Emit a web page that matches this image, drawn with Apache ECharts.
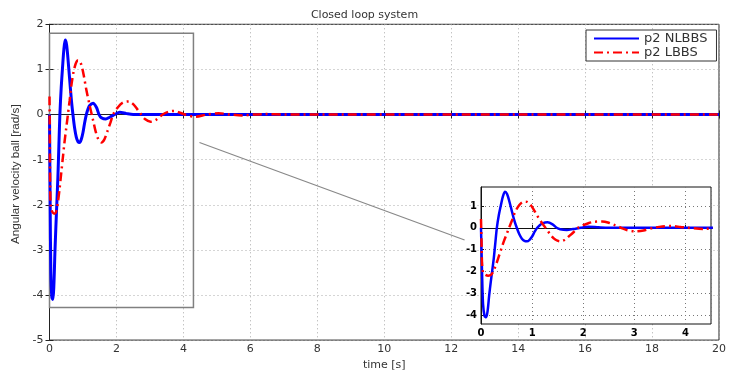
<!DOCTYPE html>
<html><head><meta charset="utf-8">
<script src="https://cdn.jsdelivr.net/npm/echarts@6/dist/echarts.min.js"></script>
<style>html,body{margin:0;padding:0;background:#fff}#c{width:729px;height:376px}</style>
</head><body><div id="c"></div>
<script>
const titleText = 'Closed loop system';
const xName = 'time [s]';
const yName = 'Angular velocity ball [rad/s]';
const seriesNames = ['p2 NLBBS', 'p2 LBBS'];
const insetXTicks = [0, 1, 2, 3, 4];
const insetYTicks = [-4, -3, -2, -1, 0, 1];

// p2 NLBBS (blue, solid)
const blueT = [0, 0.02, 0.04, 0.07, 0.10, 0.13, 0.16, 0.19, 0.22, 0.25, 0.28, 0.31, 0.35, 0.39, 0.43, 0.47, 0.51, 0.55, 0.60, 0.65, 0.70, 0.75, 0.80, 0.85, 0.90, 0.95, 1.00, 1.05, 1.10, 1.15, 1.20, 1.30, 1.40, 1.48, 1.55, 1.68, 1.80, 1.95, 2.10, 2.30, 2.50, 4, 8, 12, 16, 20];
const blueY = [0, -2.0, -3.5, -4.05, -4.1, -3.8, -3.1, -2.5, -1.95, -1.4, -0.7, 0.0, 0.6, 1.05, 1.45, 1.65, 1.55, 1.25, 0.8, 0.35, 0.0, -0.3, -0.5, -0.6, -0.62, -0.55, -0.4, -0.18, 0.0, 0.12, 0.2, 0.25, 0.16, 0.0, -0.07, -0.1, -0.06, 0.0, 0.05, 0.02, 0, 0, 0, 0, 0, 0];

// p2 LBBS (red, dash-dot)
const redT = [0, 0.01, 0.02, 0.04, 0.08, 0.14, 0.20, 0.25, 0.30, 0.35, 0.40, 0.45, 0.50, 0.55, 0.60, 0.66, 0.72, 0.78, 0.84, 0.90, 0.96, 1.02, 1.10, 1.20, 1.30, 1.38, 1.46, 1.55, 1.64, 1.74, 1.82, 1.90, 2.00, 2.10, 2.20, 2.37, 2.50, 2.62, 2.74, 2.85, 3.02, 3.18, 3.38, 3.55, 3.72, 3.90, 4.05, 4.35, 4.70, 5.05, 5.40, 5.75, 6.10, 6.45, 7, 10, 14, 20];
const redY = [0.4, -0.6, -1.6, -2.05, -2.15, -2.2, -2.15, -1.95, -1.65, -1.3, -0.95, -0.6, -0.3, 0.0, 0.3, 0.68, 0.95, 1.12, 1.2, 1.19, 1.08, 0.88, 0.55, 0.2, -0.12, -0.38, -0.55, -0.62, -0.55, -0.35, -0.18, 0.0, 0.12, 0.21, 0.27, 0.29, 0.23, 0.12, 0.0, -0.1, -0.16, -0.12, 0.0, 0.06, 0.08, 0.04, 0.0, -0.05, 0.0, 0.03, 0.0, -0.02, 0.0, 0.01, 0, 0, 0, 0];

const blueData = blueT.map((t, i) => [t, blueY[i]]);
const redData = redT.map((t, i) => [t, redY[i]]);

const FONT = 'DejaVu Sans';
const BLUE = '#0000ff', RED = '#ff0000';
const redDash = [9, 4, 2, 4];

const chart = echarts.init(document.getElementById('c'), null, {renderer: 'canvas'});

const mainAxisLine = {show: true, lineStyle: {color: '#222', width: 1}};
const mainSplit = {show: true, lineStyle: {color: '#aaa', type: [1, 3], width: 1}};

chart.setOption({
  animation: false,
  backgroundColor: '#fff',
  title: {text: titleText, left: 'center', top: 5,
    textStyle: {fontFamily: FONT, fontSize: 11, fontWeight: 'normal', color: '#333'}},
  legend: {
    data: seriesNames, orient: 'vertical', left: 586, top: 30,
    padding: [2, 9, 2, 7], itemGap: 1, itemWidth: 45, itemHeight: 13,
    backgroundColor: '#fff', borderColor: '#333', borderWidth: 1, z: 20,
    itemStyle: {opacity: 0, borderWidth: 0},
    textStyle: {fontFamily: FONT, fontSize: 13, color: '#333'}
  },
  grid: [
    {left: 49.5, right: 7, top: 24.3, bottom: 35, containLabel: false, show: true, borderColor: '#222', borderWidth: 1, backgroundColor: '#fff'},
    {left: 481, right: 18, top: 187, bottom: 52, containLabel: false, show: true, borderColor: '#111', borderWidth: 1, backgroundColor: '#fff', z: 10}
  ],
  xAxis: [
    {type: 'value', gridIndex: 0, min: 0, max: 20, interval: 2,
      name: xName, nameLocation: 'middle', nameGap: 17,
      nameTextStyle: {fontFamily: FONT, fontSize: 11, color: '#333'},
      axisLine: mainAxisLine, axisTick: {inside: true, length: 4, lineStyle: {color: '#222'}},
      axisLabel: {fontFamily: FONT, fontSize: 11, color: '#333', margin: 4},
      splitLine: mainSplit},
    {type: 'value', gridIndex: 0, min: 0, max: 20, interval: 2, position: 'top',
      axisLine: mainAxisLine, axisTick: {inside: true, length: 4, lineStyle: {color: '#222'}},
      axisLabel: {show: false}, splitLine: {show: false}},
    {type: 'value', gridIndex: 1, min: 0, max: 4.5, interval: 1, z: 11,
      axisLine: {show: true, lineStyle: {color: '#111'}},
      axisTick: {inside: true, length: 3, lineStyle: {color: '#111'}},
      axisLabel: {fontFamily: FONT, fontSize: 10, fontWeight: 'bold', color: '#000', margin: 4, showMaxLabel: false},
      splitLine: {show: true, lineStyle: {color: '#777', type: [1, 3]}}}
  ],
  yAxis: [
    {type: 'value', gridIndex: 0, min: -5, max: 2, interval: 1,
      name: yName, nameLocation: 'middle', nameGap: 28,
      nameTextStyle: {fontFamily: 'Liberation Sans', fontSize: 11.7, color: '#333', padding: [0, 0, 0, 16]},
      axisLine: mainAxisLine, axisTick: {inside: true, length: 4, lineStyle: {color: '#222'}},
      axisLabel: {fontFamily: FONT, fontSize: 11, color: '#333', margin: 6},
      splitLine: mainSplit},
    {type: 'value', gridIndex: 0, min: -5, max: 2, interval: 1, position: 'right',
      axisLine: mainAxisLine, axisTick: {inside: true, length: 4, lineStyle: {color: '#222'}},
      axisLabel: {show: false}, splitLine: {show: false}},
    {type: 'value', gridIndex: 1, min: -4.41, max: 1.87, z: 11,
      axisLine: {show: true, lineStyle: {color: '#111'}},
      axisTick: {inside: true, length: 3, lineStyle: {color: '#111'}, customValues: insetYTicks},
      axisLabel: {fontFamily: FONT, fontSize: 10, fontWeight: 'bold', color: '#000', margin: 4, customValues: insetYTicks},
      splitLine: {show: true, lineStyle: {color: '#777', type: [1, 3]}}}
  ],
  series: [
    {name: seriesNames[0], type: 'line', xAxisIndex: 0, yAxisIndex: 0, data: blueData,
      symbol: 'none', smooth: 0.3, lineStyle: {color: BLUE, width: 3}, itemStyle: {color: BLUE}, z: 3},
    {name: seriesNames[1], type: 'line', xAxisIndex: 0, yAxisIndex: 0, data: redData,
      symbol: 'none', smooth: 0.3, lineStyle: {color: RED, width: 2.5, type: redDash}, itemStyle: {color: RED}, z: 4},
    {name: seriesNames[0], type: 'line', xAxisIndex: 2, yAxisIndex: 2, data: blueData,
      symbol: 'none', smooth: 0.3, clip: true, lineStyle: {color: BLUE, width: 2.5}, itemStyle: {color: BLUE}, z: 12},
    {name: seriesNames[1], type: 'line', xAxisIndex: 2, yAxisIndex: 2, data: redData,
      symbol: 'none', smooth: 0.3, clip: true, lineStyle: {color: RED, width: 2.5, type: redDash}, itemStyle: {color: RED}, z: 13},
    {name: 'zoom', type: 'line', xAxisIndex: 0, yAxisIndex: 0, data: [], symbol: 'none', z: 5, silent: true,
      markArea: {silent: true, itemStyle: {color: 'rgba(0,0,0,0)', borderColor: '#808080', borderWidth: 1.5},
        data: [[{coord: [0, 1.8]}, {coord: [4.3, -4.28]}]]},
      markLine: {silent: true, symbol: ['none', 'none'], label: {show: false},
        lineStyle: {color: '#888', width: 1.2, type: 'solid'},
        data: [[{coord: [4.48, -0.62]}, {coord: [12.4, -2.78]}]]}}
  ]
});
</script></body></html>
